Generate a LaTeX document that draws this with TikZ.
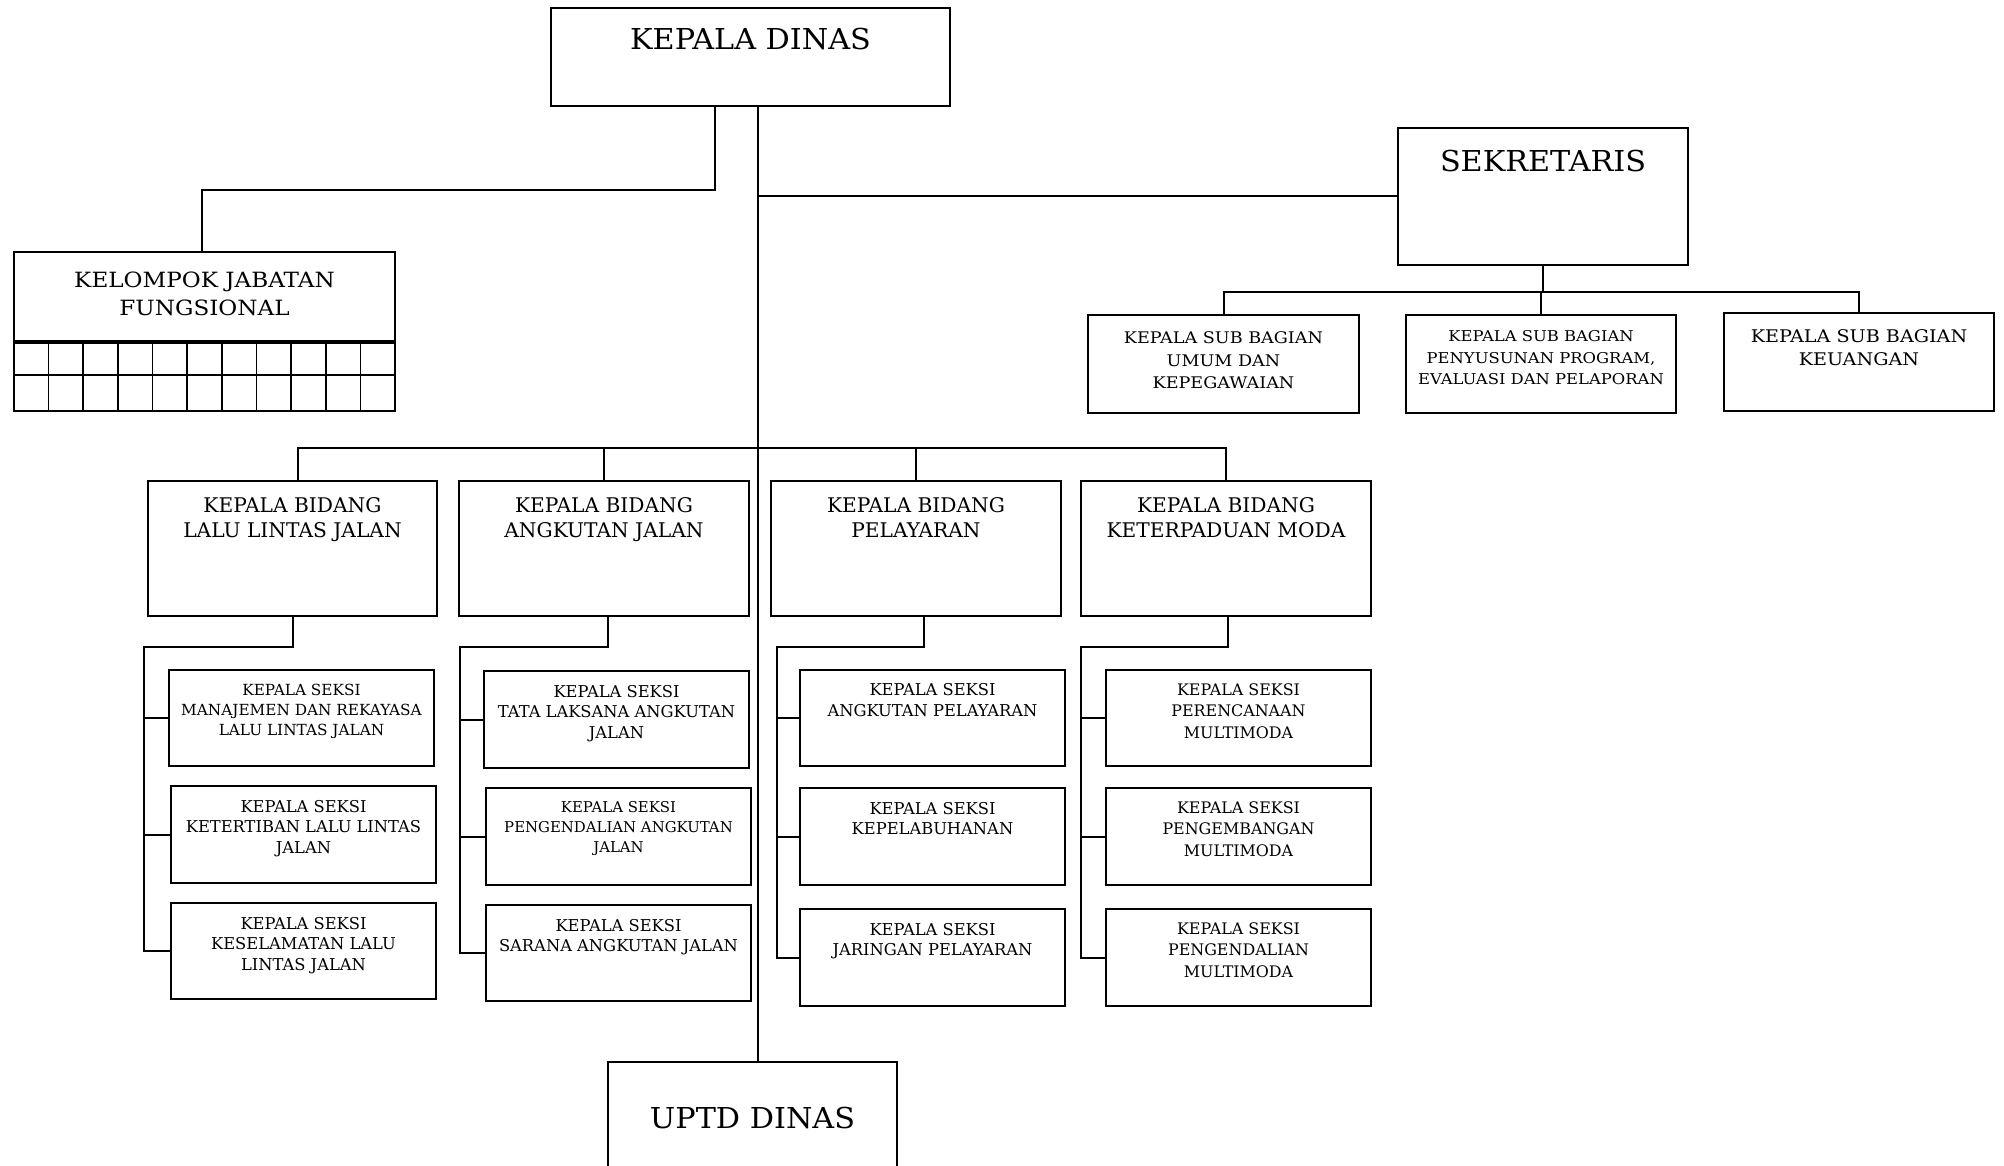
\documentclass[tikz,border=0pt]{standalone}
\usepackage{fontspec}
\setmainfont{DejaVu Serif}
\newfontfamily\wfont[FakeStretch=1.1]{DejaVu Serif}
\newfontfamily\bwfont[FakeStretch=1.05]{DejaVu Serif}
\usetikzlibrary{calc,fit}
\begin{document}
\begin{tikzpicture}[x=0.5pt,y=-0.5pt, line width=1pt,
  box/.style={draw, rectangle, inner sep=0pt, line width=1.1pt},
  big/.style={font=\bwfont\fontsize{14.4}{17}\selectfont, inner sep=0pt, anchor=north},
  kjft/.style={font=\wfont\fontsize{10.5}{14}\selectfont, align=center, inner sep=0pt, anchor=north},
  bidt/.style={font=\fontsize{10.1}{12.5}\selectfont, align=center, inner sep=0pt, anchor=north},
  sekt/.style={font=\fontsize{8.15}{10.4}\selectfont, align=center, inner sep=0pt, anchor=north},
  subt/.style={font=\wfont\fontsize{8}{11.2}\selectfont, align=center, inner sep=0pt, anchor=north},
  grid/.style={line width=0.8pt}]
\clip (0,0) rectangle (2004,1166);
\fill[white] (0,0) rectangle (2004,1166);
% top level
\node[box, fit={(551,8) (950,106)}] (kd) {};
\node[big] (kdt) at ($(kd.north)+(0,20)$) {KEPALA DINAS};
\node[box, fit={(1398,128) (1688,265)}] (sek) {};
\node[big] (sekt) at ($(sek.north)+(0,22)$) {SEKRETARIS};
\node[box, fit={(608,1062) (897,1190)}] (uptd) {};
\node[big] (uptdt) at ($(uptd.north)+(0,45)$) {UPTD DINAS};
% kelompok jabatan fungsional
\node[box, fit={(14,252) (395,411)}] (kjf) {};
\node[kjft] (kjft) at ($(kjf.north)+(0,20)$) {KELOMPOK JABATAN\\FUNGSIONAL};
\draw[line width=2pt] (14,342) -- (395,342);
\draw[grid] (14,375) -- (395,375);
\foreach \i in {1,...,10} \draw[grid] (14+\i*34.636,342) -- (14+\i*34.636,411);
% sub bagian
\node[box, fit={(1088,315) (1359,413)}] (sb1) {};
\node[box, fit={(1406,315) (1676,413)}] (sb2) {};
\node[box, fit={(1724,313) (1994,411)}] (sb3) {};
\node[subt] (sb1t) at ($(sb1.north)+(0,17)$) {KEPALA SUB BAGIAN\\UMUM DAN\\KEPEGAWAIAN};
\node[subt, font=\wfont\fontsize{7.45}{10.7}\selectfont] (sb2t) at ($(sb2.north)+(0,16)$) {KEPALA SUB BAGIAN\\PENYUSUNAN PROGRAM,\\EVALUASI DAN PELAPORAN};
\node[subt, font=\wfont\fontsize{8.7}{11.2}\selectfont] (sb3t) at ($(sb3.north)+(0,17)$) {KEPALA SUB BAGIAN\\KEUANGAN};
% bidang
\node[box, fit={(148,481) (437,616)}] (b1) {};
\node[box, fit={(459,481) (749,616)}] (b2) {};
\node[box, fit={(771,481) (1061,616)}] (b3) {};
\node[box, fit={(1081,481) (1371,616)}] (b4) {};
\node[bidt] (b1t) at ($(b1.north)+(0,17)$) {KEPALA BIDANG\\LALU LINTAS JALAN};
\node[bidt] (b2t) at ($(b2.north)+(0,17)$) {KEPALA BIDANG\\ANGKUTAN JALAN};
\node[bidt] (b3t) at ($(b3.north)+(0,17)$) {KEPALA BIDANG\\PELAYARAN};
\node[bidt] (b4t) at ($(b4.north)+(0,17)$) {KEPALA BIDANG\\KETERPADUAN MODA};
% seksi
\node[box, fit={(169,670) (434,766)}] (s11) {};
\node[box, fit={(171,786) (436,883)}] (s12) {};
\node[box, fit={(171,903) (436,999)}] (s13) {};
\node[box, fit={(484,671) (749,768)}] (s21) {};
\node[box, fit={(486,788) (751,885)}] (s22) {};
\node[box, fit={(486,905) (751,1001)}] (s23) {};
\node[box, fit={(800,670) (1065,766)}] (s31) {};
\node[box, fit={(800,788) (1065,885)}] (s32) {};
\node[box, fit={(800,909) (1065,1006)}] (s33) {};
\node[box, fit={(1106,670) (1371,766)}] (s41) {};
\node[box, fit={(1106,788) (1371,885)}] (s42) {};
\node[box, fit={(1106,909) (1371,1006)}] (s43) {};
\node[sekt, font=\fontsize{7.65}{10}\selectfont] (s11t) at ($(s11.north)+(0,14)$) {KEPALA SEKSI\\MANAJEMEN DAN REKAYASA\\LALU LINTAS JALAN};
\node[sekt] (s12t) at ($(s12.north)+(0,14)$) {KEPALA SEKSI\\KETERTIBAN LALU LINTAS\\JALAN};
\node[sekt] (s13t) at ($(s13.north)+(0,14)$) {KEPALA SEKSI\\KESELAMATAN LALU\\LINTAS JALAN};
\node[sekt] (s21t) at ($(s21.north)+(0,14)$) {KEPALA SEKSI\\TATA LAKSANA ANGKUTAN\\JALAN};
\node[sekt, font=\fontsize{7.45}{10}\selectfont] (s22t) at ($(s22.north)+(0,14)$) {KEPALA SEKSI\\PENGENDALIAN ANGKUTAN\\JALAN};
\node[sekt] (s23t) at ($(s23.north)+(0,14)$) {KEPALA SEKSI\\SARANA ANGKUTAN JALAN};
\node[sekt] (s31t) at ($(s31.north)+(0,14)$) {KEPALA SEKSI\\ANGKUTAN PELAYARAN};
\node[sekt] (s32t) at ($(s32.north)+(0,14)$) {KEPALA SEKSI\\KEPELABUHANAN};
\node[sekt] (s33t) at ($(s33.north)+(0,14)$) {KEPALA SEKSI\\JARINGAN PELAYARAN};
\node[sekt, font=\fontsize{7.95}{10.6}\selectfont] (s41t) at ($(s41.north)+(0,14)$) {KEPALA SEKSI\\PERENCANAAN\\MULTIMODA};
\node[sekt, font=\fontsize{7.95}{10.6}\selectfont] (s42t) at ($(s42.north)+(0,14)$) {KEPALA SEKSI\\PENGEMBANGAN\\MULTIMODA};
\node[sekt, font=\fontsize{7.95}{10.6}\selectfont] (s43t) at ($(s43.north)+(0,14)$) {KEPALA SEKSI\\PENGENDALIAN\\MULTIMODA};
% connectors
\coordinate (tr) at ($(kd.south)+(7.5,0)$);
\draw (tr) -- (tr |- uptd.north);
\draw (tr |- sek.west) -- (sek.west);
\draw ($(kd.south)+(-35.5,0)$) -- ++(0,83) -| ($(kjf.north)+(-2.5,0)$);
\coordinate (sbus) at ($(sek.south)+(0,26)$);
\draw (sek.south) -- (sbus);
\draw (sb1.north) -- (sb1.north |- sbus) -- (sb3.north |- sbus) -- (sb3.north);
\draw (sb2.north) -- (sb2.north |- sbus);
\coordinate (bb) at ($(tr)+(0,341)$);
\coordinate (b1n) at ($(b1.north)+(5,0)$);
\draw (b1n) -- (b1n |- bb) -- (b4.north |- bb) -- (b4.north);
\draw (b2.north) -- (b2.north |- bb);
\draw (b3.north) -- (b3.north |- bb);
% seksi combs
\coordinate (c1) at (144,647);
\coordinate (c2) at (460,647);
\coordinate (c3) at (777,647);
\coordinate (c4) at (1081,647);
\draw (b1.south) |- (c1) -- (c1 |- s13.west) -- (s13.west);
\draw (c1 |- s11.west) -- (s11.west);
\draw (c1 |- s12.west) -- (s12.west);
\draw ($(b2.south)+(4,0)$) |- (c2) -- (c2 |- s23.west) -- (s23.west);
\draw (c2 |- s21.west) -- (s21.west);
\draw (c2 |- s22.west) -- (s22.west);
\draw ($(b3.south)+(8,0)$) |- (c3) -- (c3 |- s33.west) -- (s33.west);
\draw (c3 |- s31.west) -- (s31.west);
\draw (c3 |- s32.west) -- (s32.west);
\draw ($(b4.south)+(2,0)$) |- (c4) -- (c4 |- s43.west) -- (s43.west);
\draw (c4 |- s41.west) -- (s41.west);
\draw (c4 |- s42.west) -- (s42.west);
\end{tikzpicture}
\end{document}
